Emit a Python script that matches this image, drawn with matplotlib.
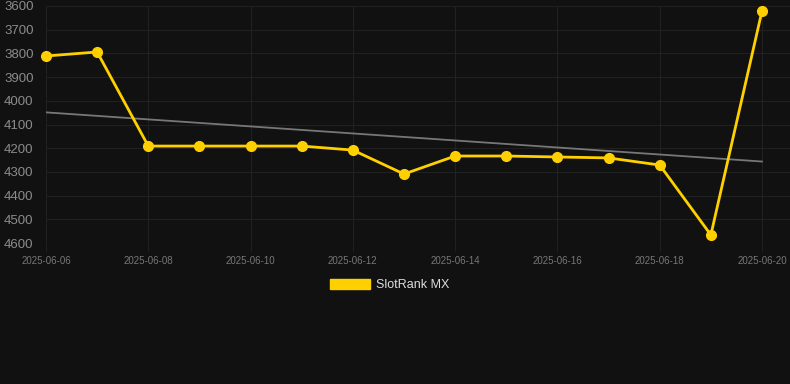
import matplotlib
matplotlib.use("Agg")
import matplotlib.pyplot as plt
import matplotlib.dates as mdates
import numpy as np
import pandas as pd
from matplotlib.patches import Patch

plt.rcParams['font.family'] = ['Liberation Sans', 'DejaVu Sans']

dates = pd.date_range("2025-06-06", "2025-06-20", freq="D")
values = [3811, 3794, 4191, 4191, 4191, 4191, 4208, 4309, 4233, 4233, 4237, 4241, 4271, 4566, 3621]
series_name = "SlotRank MX"
y_ticks = [3600, 3700, 3800, 3900, 4000, 4100, 4200, 4300, 4400, 4500, 4600]

W, H = 790, 384
fig = plt.figure(figsize=(W / 100, H / 100), dpi=100)
fig.patch.set_facecolor("#111111")
ax = fig.add_axes([46 / W, 1 - 243 / H, (790 - 46) / W, (243 - 6) / H])
ax.set_facecolor("#111111")

xnum = mdates.date2num(dates)
coef = np.polyfit(np.arange(len(values)), values, 1)
trend = np.polyval(coef, np.arange(len(values)))

ax.plot(dates, trend, color="#777777", lw=1.3, zorder=2)
ax.plot(dates, values, color="#FFD000", lw=2.0, marker="o", ms=7, zorder=3, clip_on=False)

ax.set_ylim(4600, 3600)
ax.set_yticks(y_ticks)
px_per_day = (762 - 46) / 14
ax.set_xlim(xnum[0], xnum[-1] + (790 - 762) / px_per_day)
ax.set_xticks(xnum[::2])
ax.xaxis.set_major_formatter(mdates.DateFormatter("%Y-%m-%d"))

ax.grid(True, color="#212121", lw=0.8)
for s in ax.spines.values():
    s.set_visible(False)
ax.tick_params(axis="y", colors="#8c8c8c", labelsize=9.5, length=0, pad=9)
ax.tick_params(axis="x", colors="#777777", labelsize=7, length=6, color="#212121", pad=3)

handle = Patch(facecolor="#FFD000", edgecolor="#FFD000")
leg = fig.legend([handle], [series_name], loc="center", bbox_to_anchor=(390 / W, 1 - 285 / H),
                 frameon=False, fontsize=9, handlelength=3.2, handleheight=0.9, labelcolor="#dddddd",
                 handletextpad=0.5)

fig.savefig("out.png", dpi=100, facecolor=fig.get_facecolor())
